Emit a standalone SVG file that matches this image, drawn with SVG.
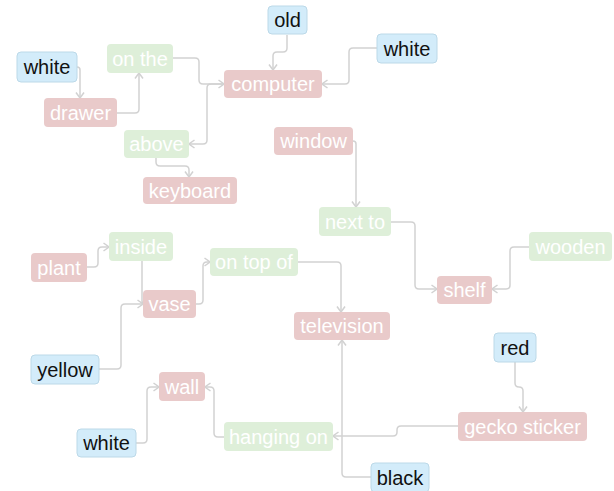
<svg xmlns="http://www.w3.org/2000/svg" width="614" height="491" viewBox="0 0 614 491">
<style>
.n rect{rx:4px;ry:4px}
.b rect{fill:#d3ecfa;stroke:#bcd9e8;stroke-width:1}
.r rect{fill:#e9caca}
.g rect{fill:#deefd9}
text{font-family:"Liberation Sans",Arial,sans-serif;font-size:20px;text-anchor:middle}
.b text{fill:#111}
.r text,.g text{fill:#fff}
#edges path{fill:none;stroke:#d2d2d2;stroke-width:1.5;marker-end:url(#ah)}
</style>
<defs>
<marker id="ah" markerUnits="userSpaceOnUse" viewBox="0 0 10 10" refX="9.5" refY="5" markerWidth="10" markerHeight="10" orient="auto">
<path d="M4,1 L9.5,5 L4,9" fill="none" stroke="#d2d2d2" stroke-width="1.5"/>
</marker>
</defs>
<rect width="614" height="491" fill="#fff"/>
<g id="edges">
<path d="M287,35 V48 Q287,52 283,52 H277 Q273,52 273,56 V70"/>
<path d="M377,48 H353 Q349,48 349,52 V80 Q349,84 345,84 H322"/>
<path d="M77,67 Q80,67 80,70 V98"/>
<path d="M117,113 H135 Q139,113 139,109 V73"/>
<path d="M173,58 H195 Q199,58 199,62 V80 Q199,84 203,84 H224"/>
<path d="M224,84 H211 Q207,84 207,88 V140 Q207,144 203,144 H189"/>
<path d="M156,158 V162 Q156,166 160,166 H185 Q189,166 189,170 V177"/>
<path d="M353,141 Q356,141 356,144 V207"/>
<path d="M391,222 H411 Q415,222 415,226 V285 Q415,289 419,289 H437"/>
<path d="M529,247 H514 Q510,247 510,251 V285 Q510,289 506,289 H492"/>
<path d="M87,267 H94 Q98,267 98,263 V251 Q98,247 102,247 H109"/>
<path d="M142,261 V301 Q142,304 145,304 H143"/>
<path d="M99,369 H117 Q121,369 121,365 V308 Q121,304 125,304 H143"/>
<path d="M196,304 H199 Q203,304 203,300 V266 Q203,262 207,262 H210"/>
<path d="M298,262 H337 Q341,262 341,266 V312"/>
<path d="M371,477 H346 Q342,477 342,473 V340"/>
<path d="M515,362 V383 Q515,387 519,387 Q523,387 523,391 V412"/>
<path d="M458,426 H401 Q397,426 397,430 V432 Q397,436 393,436 H333"/>
<path d="M224,437 H218 Q214,437 214,433 V391 Q214,387 210,387 H205"/>
<path d="M136,443 H143 Q147,443 147,439 V391 Q147,387 151,387 H159"/>
</g>
<g id="old" class="n b"><rect x="268" y="6" width="39" height="28"/><text x="287.5" y="27">old</text></g>
<g id="white1" class="n b"><rect x="377" y="34" width="60" height="29"/><text x="407" y="55.5">white</text></g>
<g id="white2" class="n b"><rect x="17" y="52" width="60" height="30"/><text x="47" y="74">white</text></g>
<g id="onthe" class="n g"><rect x="107" y="44" width="66" height="29"/><text x="140" y="65.5">on the</text></g>
<g id="computer" class="n r"><rect x="224" y="70" width="98" height="28"/><text x="273" y="91">computer</text></g>
<g id="drawer" class="n r"><rect x="44" y="98" width="73" height="29"/><text x="80.5" y="119.5">drawer</text></g>
<g id="above" class="n g"><rect x="124" y="130" width="65" height="28"/><text x="156.5" y="151">above</text></g>
<g id="keyboard" class="n r"><rect x="143" y="177" width="94" height="27"/><text x="190" y="197.5">keyboard</text></g>
<g id="window" class="n r"><rect x="274" y="127" width="79" height="28"/><text x="313.5" y="148">window</text></g>
<g id="nextto" class="n g"><rect x="319" y="207" width="72" height="29"/><text x="355" y="228.5">next to</text></g>
<g id="wooden" class="n g"><rect x="529" y="232" width="83" height="29"/><text x="570.5" y="253.5">wooden</text></g>
<g id="shelf" class="n r"><rect x="437" y="276" width="55" height="28"/><text x="464.5" y="297">shelf</text></g>
<g id="television" class="n r"><rect x="294" y="312" width="96" height="28"/><text x="342" y="333">television</text></g>
<g id="red" class="n b"><rect x="494" y="333" width="42" height="29"/><text x="515" y="354.5">red</text></g>
<g id="plant" class="n r"><rect x="31" y="253" width="56" height="29"/><text x="59" y="274.5">plant</text></g>
<g id="inside" class="n g"><rect x="109" y="232" width="64" height="29"/><text x="141" y="253.5">inside</text></g>
<g id="ontopof" class="n g"><rect x="210" y="248" width="88" height="28"/><text x="254" y="269">on top of</text></g>
<g id="vase" class="n r"><rect x="143" y="290" width="53" height="28"/><text x="169.5" y="311">vase</text></g>
<g id="yellow" class="n b"><rect x="31" y="355" width="68" height="29"/><text x="65" y="376.5">yellow</text></g>
<g id="wall" class="n r"><rect x="159" y="372" width="46" height="29"/><text x="182" y="393.5">wall</text></g>
<g id="white3" class="n b"><rect x="77" y="429" width="59" height="28"/><text x="106.5" y="450">white</text></g>
<g id="hangingon" class="n g"><rect x="224" y="422" width="109" height="29"/><text x="278.5" y="443.5">hanging on</text></g>
<g id="gecko" class="n r"><rect x="458" y="412" width="129" height="29"/><text x="522.5" y="433.5">gecko sticker</text></g>
<g id="black" class="n b"><rect x="371" y="463" width="58" height="29"/><text x="400" y="484.5">black</text></g>
</svg>
